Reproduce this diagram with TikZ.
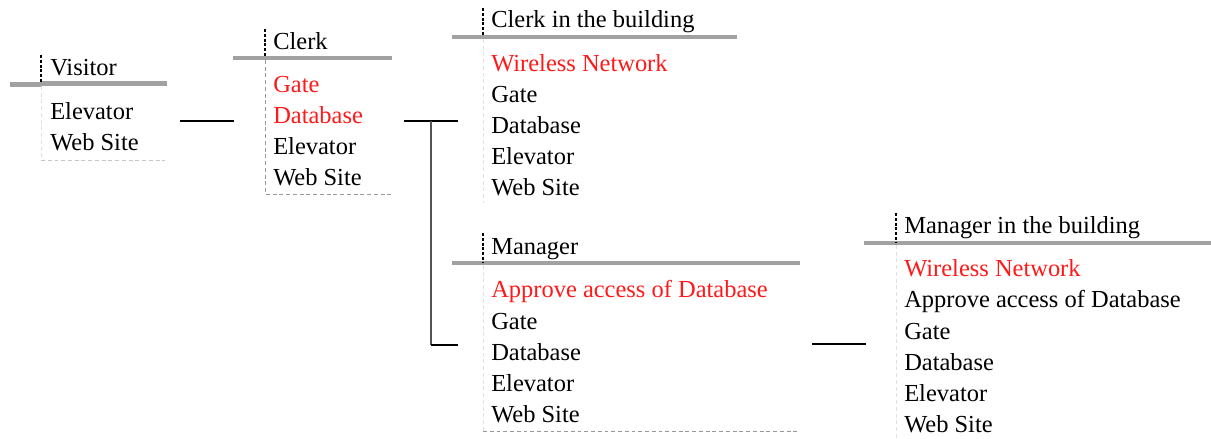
\documentclass[tikz,border=0pt]{standalone}
\usepackage{fontspec}
\setmainfont{Liberation Serif}
\usetikzlibrary{positioning}
\definecolor{headline}{rgb}{0.63, 0.63, 0.63}
\definecolor{granted}{rgb}{1, 0.1, 0.1}
\definecolor{frameline}{rgb}{0.6, 0.6, 0.6}
\definecolor{lightline}{rgb}{0.78, 0.78, 0.78}
\definecolor{faintline}{rgb}{0.88, 0.88, 0.88}
\definecolor{branch}{rgb}{0.33, 0.33, 0.33}
\tikzset{
  role/.style={anchor=base west, inner sep=0pt, font=\fontsize{17.4}{22}\selectfont},
  item/.style={role},
  newitem/.style={role, text=granted},
  head/.style={headline, line width=2.85pt},
  tick/.style={black, line width=1pt, dash pattern=on 2.2pt off 1.2pt},
  frame/.style={frameline, line width=0.6pt, dash pattern=on 2.8pt off 2pt},
  faint/.style={faintline, line width=0.6pt, dash pattern=on 2.8pt off 2pt},
  link/.style={black, line width=1.4pt}
}

\begin{document}
\begin{tikzpicture}[x=0.025cm, y=-0.025cm]
\useasboundingbox (0,0) rectangle (1211,439);

% visitor
\draw[head] (10,84.5) -- (41,84.5);
\draw[head] (41,83.5) -- (167,83.5);
\draw[tick] (41,55) -- (41,82);
\node[role] (visitor) at (50,76) {Visitor};
\node[item] (v1) at (50,120) {Elevator};
\node[item] (v2) at (50,151) {Web Site};
\draw[faint] (41,86) -- (41,160);
\draw[frame, lightline] (41,160) -- (165,160);

% clerk
\draw[head] (233,58) -- (392,58);
\draw[tick] (265,29) -- (265,57);
\node[role] (clerk) at (273,50) {Clerk};
\node[newitem] (c1) at (273,93) {Gate};
\node[newitem] (c2) at (273,124) {Database};
\node[item] (c3) at (273,155) {Elevator};
\node[item] (c4) at (273,186) {Web Site};
\draw[frame] (265,60) -- (265,194) -- (392,194);

% clerk in the building
\draw[head] (452,37) -- (737,37);
\draw[tick] (483,8) -- (483,36);
\node[role] (clerkb) at (491,28) {Clerk in the building};
\node[newitem] (b1) at (491,72) {Wireless Network};
\node[item] (b2) at (491,103) {Gate};
\node[item] (b3) at (491,134) {Database};
\node[item] (b4) at (491,165) {Elevator};
\node[item] (b5) at (491,196) {Web Site};
\draw[faint] (483,39) -- (483,203);

% manager
\draw[head] (452,263) -- (800,263);
\draw[tick] (483,233) -- (483,262);
\node[role] (manager) at (491,255) {Manager};
\node[newitem] (m1) at (491,298) {Approve access of Database};
\node[item] (m2) at (491,329) {Gate};
\node[item] (m3) at (491,360) {Database};
\node[item] (m4) at (491,391) {Elevator};
\node[item] (m5) at (491,422) {Web Site};
\draw[faint] (483,265) -- (483,431);
\draw[frame] (483,431) -- (797,431);

% manager in the building
\draw[head] (864,243) -- (1211,243);
\draw[tick] (896,213) -- (896,242);
\node[role] (managerb) at (904,234) {Manager in the building};
\node[newitem] (n1) at (904,277) {Wireless Network};
\node[item] (n2) at (904,308) {Approve access of Database};
\node[item] (n3) at (904,339) {Gate};
\node[item] (n4) at (904,370) {Database};
\node[item] (n5) at (904,401) {Elevator};
\node[item] (n6) at (904,432) {Web Site};
\draw[faint] (896,245) -- (896,439);

% connector ends
\coordinate (vc0) at (180,121);
\coordinate (vc1) at (234,121);
\coordinate (cb0) at (404,121);
\coordinate (cb1) at (458,121);
\coordinate (cj) at (431,121);
\coordinate (cm) at (431,345);
\coordinate (cm1) at (458,345);
\coordinate (mn0) at (812,344);
\coordinate (mn1) at (866,344);

% connectors
\draw[link] (vc0) -- (vc1);
\draw[link] (cb0) -- (cb1);
\draw[link, branch] (cj) -- (cm);
\draw[link] (cm) -- (cm1);
\draw[link] (mn0) -- (mn1);
\end{tikzpicture}
\end{document}
